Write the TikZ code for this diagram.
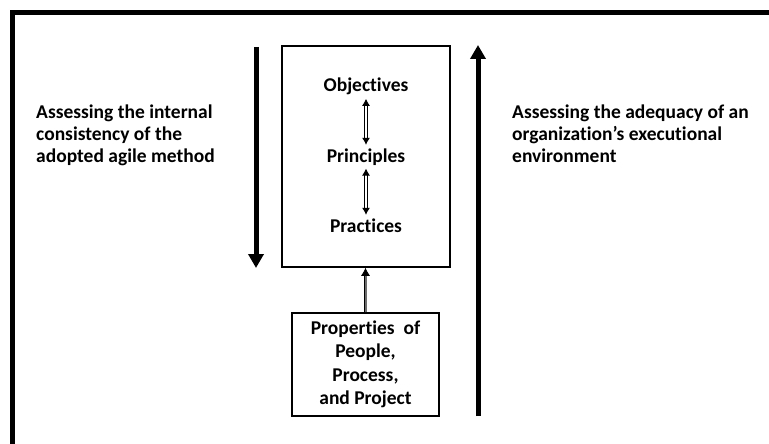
\documentclass[tikz,border=0pt]{standalone}
\usepackage{fontspec}
\setmainfont{Carlito}[Ligatures=NoCommon]
\usetikzlibrary{arrows.meta}

\begin{document}
\begin{tikzpicture}[x=1pt,y=-1pt]
        \tikzstyle{every node}=[font=\bfseries\fontsize{19.5}{22}\selectfont]
        \tikzstyle{box}=[draw,line width=1.5pt,inner sep=0pt]
        \tikzstyle{side}=[align=left,inner sep=0pt,anchor=base west]
        \tikzstyle{bigarrow}=[line width=5pt,-{Triangle[width=15pt,length=14pt]}]
        \tikzstyle{link}=[double,line width=0.9pt,double distance=1.6pt,{Latex[length=7pt,width=8pt]}-{Latex[length=7pt,width=8pt]}]
        \useasboundingbox (0,0) rectangle (769,444);
        % frame, only top and left edges show
        \draw[line width=5pt] (769,12.5) -| (12,444);
        % the method box and its three levels
        \node[box,minimum width=168pt,minimum height=221pt] (method) at (366,156.5) {};
        \node[anchor=base] (obj) at (366,92) {Objectives};
        \node[anchor=base] (prin) at (366,162) {Principles};
        \node[anchor=base] (prac) at (366,232) {Practices};
        \draw[link] (obj) -- (prin);
        \draw[link] (prin) -- (prac);
        % properties box feeding the method
        \node[box,align=center,minimum width=147pt,minimum height=103pt,
              font=\bfseries\fontsize{19.5}{23.5}\selectfont] (props) at (365.5,364.5)
              {Properties\ \ of\\People,\\Process,\\and Project};
        \draw[double=gray!85!black,line width=0.9pt,double distance=2pt,-{Latex[length=8pt,width=9pt]}]
              (props.north) -- (props.north |- method.south);
        % the two assessment directions
        \coordinate (downtop) at (256,47);
        \coordinate (downend) at (256,268);
        \coordinate (uptop) at (478,45);
        \coordinate (upend) at (478,416);
        \draw[bigarrow] (downtop) -- (downend);
        \draw[bigarrow] (upend) -- (uptop);
        % base sits on the last line of a multi-line node
        \node[side] (internal) at (36,162) {Assessing the internal\\consistency of the\\adopted agile method};
        \node[side] (adequacy) at (512,162) {Assessing the adequacy of an\\organization’s executional\\environment};
\end{tikzpicture}
\end{document}
